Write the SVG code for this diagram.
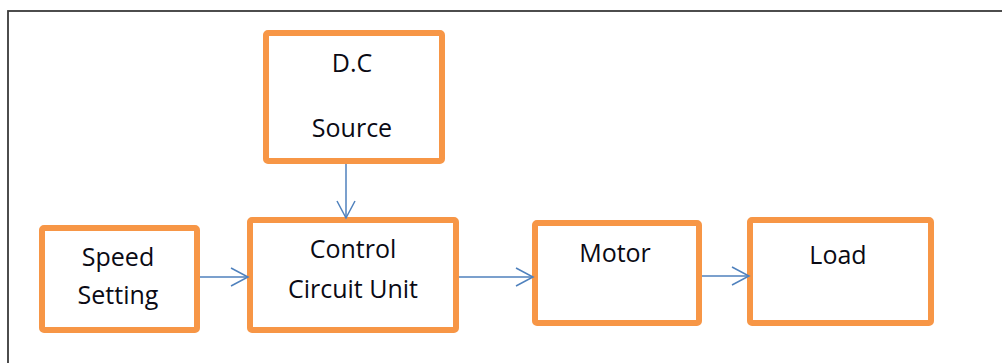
<svg xmlns="http://www.w3.org/2000/svg" width="1002" height="363" viewBox="0 0 1002 363">
<defs>
<style>
.box{fill:#fff;stroke:#F79646;stroke-width:6;}
.lbl{font-family:"Open Sans","Noto Sans","Liberation Sans",sans-serif;font-size:25px;fill:#0a0a14;text-anchor:middle;}
.con{fill:none;stroke:#4F81BD;stroke-width:1.5;}
</style>
<marker id="arr" markerUnits="userSpaceOnUse" markerWidth="20" markerHeight="22" refX="18" refY="10" orient="auto" viewBox="0 0 20 22">
<path d="M1,1 L18,10 L1,19" fill="none" stroke="#4F81BD" stroke-width="1.5"/>
</marker>
</defs>
<rect x="0" y="0" width="1002" height="363" fill="#fff"/>
<rect x="8" y="11" width="1010" height="380" fill="none" stroke="#3a3a3a" stroke-width="1.8"/>
<g id="dc-source">
<rect class="box" x="266" y="33" width="176" height="128" rx="2"/>
<text class="lbl" x="352" y="72">D.C</text>
<text class="lbl" x="352" y="137">Source</text>
</g>
<g id="speed-setting">
<rect class="box" x="42" y="228" width="155" height="102" rx="2"/>
<text class="lbl" x="118" y="266">Speed</text>
<text class="lbl" x="118" y="304">Setting</text>
</g>
<g id="control-circuit">
<rect class="box" x="250" y="220" width="206" height="110" rx="2"/>
<text class="lbl" x="353" y="258">Control</text>
<text class="lbl" x="353" y="298">Circuit Unit</text>
</g>
<g id="motor">
<rect class="box" x="535" y="223" width="164" height="100" rx="2"/>
<text class="lbl" x="615" y="262">Motor</text>
</g>
<g id="load">
<rect class="box" x="750" y="220" width="181" height="103" rx="2"/>
<text class="lbl" x="838" y="264">Load</text>
</g>
<g id="connectors">
<line class="con" x1="346" y1="164" x2="346" y2="218" marker-end="url(#arr)"/>
<line class="con" x1="200" y1="277" x2="248" y2="277" marker-end="url(#arr)"/>
<line class="con" x1="459" y1="277" x2="533" y2="277" marker-end="url(#arr)"/>
<line class="con" x1="702" y1="276" x2="749" y2="276" marker-end="url(#arr)"/>
</g>
</svg>
